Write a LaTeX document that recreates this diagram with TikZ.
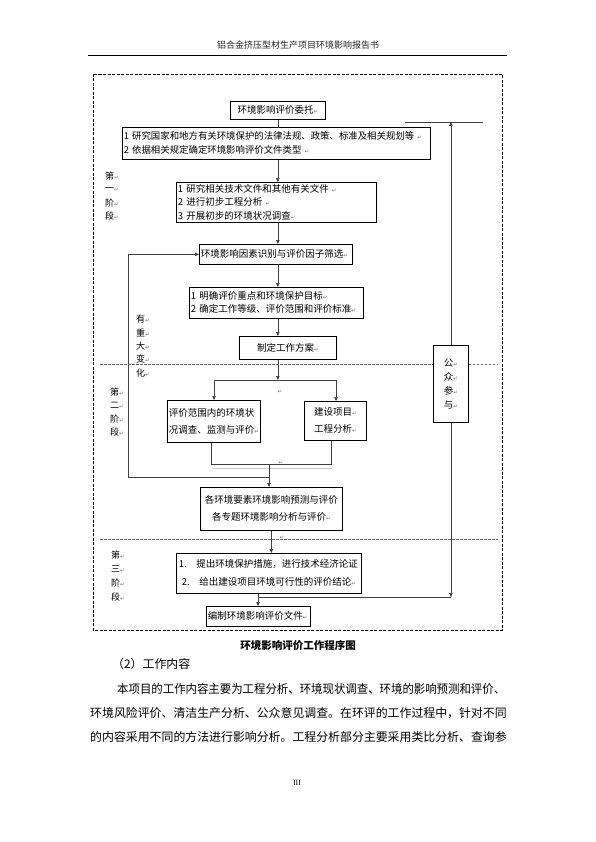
\documentclass[tikz,border=0pt]{standalone}
\usepackage{fontspec}
\setmainfont{Liberation Serif}
\newfontfamily\cjk{Noto Sans CJK SC}
\newfontfamily\symf{DejaVu Sans}
\usepackage{graphicx}
\usetikzlibrary{arrows.meta}
\newcommand{\ret}{{\symf\fontsize{5.5}{5}\selectfont\textcolor{black!55}{↵}}}
\newcommand{\boxfont}[1]{\cjk\fontsize{9.5}{#1}\selectfont}

\begin{document}
\begin{tikzpicture}[x=1pt,y=-1pt,
  box/.style={draw, line width=0.7pt, inner xsep=1.5pt, inner ysep=0pt, anchor=north west, font=\boxfont{13.4}},
  lbl/.style={font=\cjk\fontsize{9}{10}\selectfont, anchor=west, inner sep=0pt},
  link/.style={draw=black!75, line width=0.6pt},
  arr/.style={link, -{Triangle[length=4pt,width=3.5pt]}},
  stage/.style={draw=black!60, line width=0.5pt, dash pattern=on 2.5pt off 1.5pt},
  body/.style={font=\cjk\fontsize{11.9}{12}\selectfont, anchor=west, inner sep=0pt}]
\useasboundingbox[fill=white] (0,0) rectangle (595,842);

\node[font=\cjk\fontsize{9}{9}\selectfont, text=black!85] (head) at (298,45) {铝合金挤压型材生产项目环境影响报告书};
\draw[line width=0.6pt] (88,55) -- (507,55);
\draw[line width=0.9pt, dash pattern=on 3pt off 1.5pt] (93,74) rectangle (502,630);

\node[box, text width=92pt, minimum height=18pt, align=center] (entrust) at (230,101) {环境影响评价委托\ret};
\node[box, text width=305pt, minimum height=32pt, align=left, font=\cjk\fontsize{9.4}{14}\selectfont] (law) at (122,127)
  {1 研究国家和地方有关环境保护的法律法规、政策、标准及相关规划等 \ret\\2 依据相关规定确定环境影响评价文件类型 \ret};
\node[box, text width=197pt, minimum height=40pt, align=left] (prep) at (176,182)
  {1 研究相关技术文件和其他有关文件 \ret\\2 进行初步工程分析 \ret\\3 开展初步的环境状况调查\ret};
\node[box, text width=150pt, minimum height=20pt, align=left] (ident) at (199,244) {环境影响因素识别与评价因子筛选\ret};
\node[box, text width=171pt, minimum height=31pt, align=left, font=\boxfont{13}] (focus) at (189,287)
  {1 明确评价重点和环境保护目标\ret\\2 确定工作等级、评价范围和评价标准\ret};
\node[box, text width=94pt, minimum height=23pt, align=center] (plan) at (239,336) {制定工作方案\ret};
\node[box, text width=90pt, minimum height=42pt, align=left, font=\boxfont{17}] (survey) at (167,400)
  {评价范围内的环境状\\况调查、监测与评价\ret};
\node[box, text width=59pt, minimum height=39pt, align=center, font=\boxfont{17}] (eng) at (304,401) {建设项目\ret\\工程分析\ret};
\node[box, text width=139pt, minimum height=43pt, align=center, font=\boxfont{17}] (predict) at (200,487)
  {各环境要素环境影响预测与评价\\各专题环境影响分析与评价\ret};
\node[box, text width=182pt, minimum height=40pt, align=left, font=\boxfont{18}] (measure) at (176,553)
  {\hspace*{1pt}1.\hspace{1em}提出环境保护措施，进行技术经济论证\\\hspace*{4pt}2.\hspace{1em}给出建设项目环境可行性的评价结论\ret};
\node[box, text width=101pt, minimum height=20pt, align=left] (report) at (206,606) {编制环境影响评价文件\ret};
\node[box, text width=32pt, minimum height=77pt, align=center, font=\boxfont{14}] (public) at (433,345) {公\ret\\众\ret\\参\ret\\与\ret};

\draw[link] (entrust.south) -- (entrust.south |- law.north);
\foreach \a/\b in {law/prep, prep/ident, ident/focus, focus/plan}
  \draw[arr] (\a.south -| entrust.south) -- (\b.north -| entrust.south);
\coordinate (splitL) at (214,380);
\coordinate (splitR) at (336,380);
\draw[arr] (plan.south -| entrust.south) -- (entrust.south |- splitL);
\draw[link] (splitL) -- (splitR);
\draw[arr] (splitL) -- (splitL |- survey.north);
\draw[arr] (splitR) -- (splitR |- eng.north);
\coordinate (joinL) at (211,464);
\coordinate (joinR) at (331,464);
\coordinate (join) at (269,464);
\draw[link] (joinL |- survey.south) -- (joinL) -- (joinR) -- (joinR |- eng.south);
\draw[black!20, line width=0.5pt] (212,468) -- (332,468);
\draw[arr] (join) -- (join |- predict.north);
\coordinate (back) at (128,477);
\draw[arr] (join |- back) -- (back) -- (back |- ident.west) -- (ident.west);
\draw[arr] (predict.south) -- (predict.south |- measure.north);
\coordinate (merge) at (258,597);
\draw[arr] (measure.south -| merge) -- (merge |- report.north);
\coordinate (pubtop) at (405,122);
\coordinate (pubtopR) at (483,122);
\draw[link] (pubtop) -- (pubtopR);
\draw[arr] (public.north) -- (public.north |- pubtop);
\draw[arr] (public.south) -- (public.south |- merge);
\draw[link] (public.south |- merge) -- (merge);

\coordinate (div) at (100,364);
\draw[stage] (div) -- (div -| public.west);
\draw[stage] (div -| public.east) -- (497,364);
\draw[stage] (100,539) -- (498,539);

\foreach \c [count=\i] in {第,一,阶,段}
  \node[lbl] (stA\i) at (105,{176+13.4*(\i-1)}) {\c\ret};
\foreach \c [count=\i] in {有,重,大,变,化}
  \node[lbl] (chg\i) at (136,{319+13.5*(\i-1)}) {\c\ret};
\foreach \c [count=\i] in {第,二,阶,段}
  \node[lbl] (stB\i) at (110,{392+13.4*(\i-1)}) {\c\ret};
\foreach \c [count=\i] in {第,三,阶,段}
  \node[lbl] (stC\i) at (111,{555+14*(\i-1)}) {\c\ret};
\node[inner sep=0pt] (r1) at (280,392) {\ret};
\node[inner sep=0pt] (r2) at (281,463) {\ret};
\node[inner sep=0pt] (r3) at (282,538) {\ret};

\node[font=\cjk\bfseries\fontsize{10.5}{11}\selectfont] (cap) at (298,645) {环境影响评价工作程序图};
\node[body] (sub) at (112,664) {（2）工作内容};
\node[body] (p1) at (117,689) {\scalebox{0.959}[1]{本项目的工作内容主要为工程分析、环境现状调查、环境的影响预测和评价、}};
\node[body] (p2) at (90,713) {环境风险评价、清洁生产分析、公众意见调查。在环评的工作过程中，针对不同};
\node[body] (p3) at (90,737) {的内容采用不同的方法进行影响分析。工程分析部分主要采用类比分析、查询参};
\node[font=\fontsize{8}{8}\selectfont] (pg) at (297,783) {III};
\end{tikzpicture}
\end{document}
